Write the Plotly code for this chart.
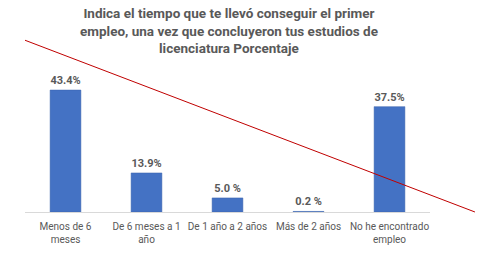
import plotly.graph_objects as go

categories = ["Menos de 6<br>meses", "De 6 meses a 1<br>año", "De 1 año a 2 años", "Más de 2 años", "No he encontrado<br>empleo"]
values = [43.4, 13.9, 5.0, 0.2, 37.5]
labels = ["43.4%", "13.9%", "5.0 %", "0.2 %", "37.5%"]

title = "Indica el tiempo que te llevó conseguir el primer<br>empleo, una vez que concluyeron tus estudios de<br>licenciatura Porcentaje"

fig = go.Figure()
fig.add_trace(go.Bar(
    x=categories, y=values,
    marker=dict(color="#4472C4", line=dict(color="#3a63ad", width=0.5)),
    text=labels, textposition="outside", cliponaxis=False,
    textfont=dict(family="Roboto", size=11, color="#595959", weight="bold"),
    width=0.38,
))

fig.update_layout(
    width=485, height=257,
    margin=dict(l=25, r=55, t=60, b=45, autoexpand=False),
    paper_bgcolor="white", plot_bgcolor="white",
    showlegend=False,
    xaxis=dict(showline=True, linecolor="#d9d9d9", linewidth=1, ticks="", automargin=False,
               ticklabelstandoff=5,
               tickfont=dict(family="Roboto", size=10, color="#595959"), showgrid=False),
    yaxis=dict(range=[0, 54.1], visible=False, showgrid=False, automargin=False),
    annotations=[dict(text="<b>" + title + "</b>", xref="paper", yref="paper",
                      x=0.504, y=1.375, xanchor="center", yanchor="top", showarrow=False,
                      align="center",
                      font=dict(family="Roboto", size=13.5, color="#595959"))],
    shapes=[dict(type="line", xref="paper", yref="paper", x0=0, y0=1.13, x1=1.111, y1=0,
                 line=dict(color="#C00000", width=1))],
)

fig.write_html("out.html", config={"displayModeBar": False},
               post_script="document.body.style.margin='0px';document.body.style.overflow='hidden';")
